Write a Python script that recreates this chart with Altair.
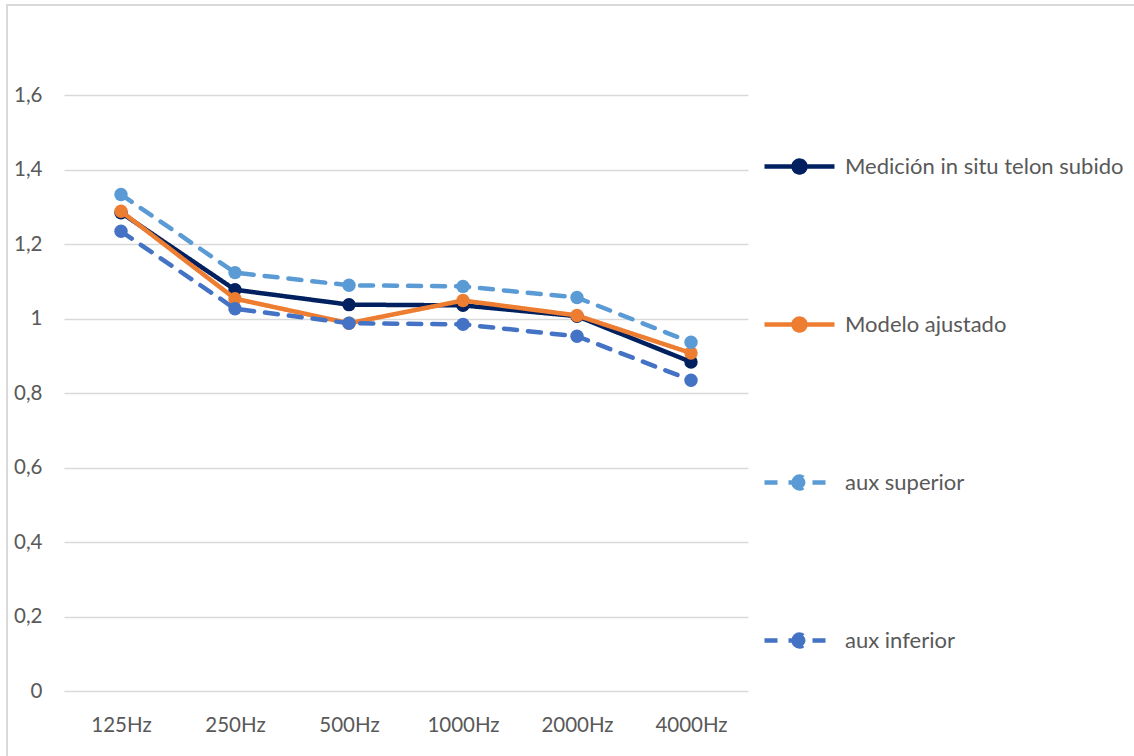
import altair as alt
import pandas as pd

# Frequency bands and the four measured / modelled curves
bands = ["125Hz", "250Hz", "500Hz", "1000Hz", "2000Hz", "4000Hz"]
series_names = ["Medición in situ telon subido", "Modelo ajustado", "aux superior", "aux inferior"]
medicion = [1.285, 1.078, 1.038, 1.036, 1.007, 0.884]
modelo = [1.289, 1.054, 0.988, 1.049, 1.009, 0.908]
aux_superior = [1.334, 1.124, 1.090, 1.087, 1.057, 0.937]
aux_inferior = [1.235, 1.027, 0.988, 0.985, 0.953, 0.835]

colors = ["#002060", "#ED7D31", "#5B9BD5", "#4472C4"]
dashes = [[1, 0], [1, 0], [13, 11], [13, 11]]
y_ticks = [0, 0.2, 0.4, 0.6, 0.8, 1, 1.2, 1.4, 1.6]

rows = []
for name, vals in zip(series_names, [medicion, modelo, aux_superior, aux_inferior]):
    for b, v in zip(bands, vals):
        rows.append({"banda": b, "valor": v, "serie": name})
df = pd.DataFrame(rows)

FONT = "Lato"
TEXT = "#595959"

x_enc = alt.X(
    "banda:N",
    sort=bands,
    title=None,
    scale=alt.Scale(type="point", padding=0.5),
    axis=alt.Axis(labelAngle=0, ticks=False, domain=False, labelPadding=24,
                  labelFontSize=20.5, labelColor=TEXT, labelFont=FONT),
)
y_enc = alt.Y(
    "valor:Q",
    title=None,
    scale=alt.Scale(domain=[0, 1.8], nice=False),
    axis=alt.Axis(values=y_ticks, ticks=False, domain=False, labelPadding=22,
                  labelExpr="replace(toString(datum.value), '.', ',')",
                  labelFontSize=20.5, labelColor=TEXT, labelFont=FONT,
                  gridColor="#d9d9d9", gridWidth=1.5),
)

# legend glyph: a line through a dot
LEGEND_PATH = ("M-1,0L1,0"
               "M-0.17,0A0.17,0.17 0 1,0 0.17,0A0.17,0.17 0 1,0 -0.17,0Z")

legend = alt.Legend(
    title=None, orient="none", legendX=698, legendY=108, padding=0,
    symbolType=LEGEND_PATH, symbolSize=4900, symbolStrokeWidth=4.5,
    rowPadding=105, labelOffset=8, labelFontSize=22,
    labelFont=FONT, labelColor=TEXT, labelLimit=400,
)

stroke_scale = alt.Scale(domain=series_names, range=colors)
fill_scale = alt.Scale(domain=series_names, range=colors)
dash_scale = alt.Scale(domain=series_names, range=dashes)

layers = []
for name in series_names:
    base = alt.Chart(df).transform_filter(alt.datum.serie == name)
    line = base.mark_line(strokeWidth=4.5, strokeCap="round", strokeJoin="round").encode(
        x=x_enc, y=y_enc,
        stroke=alt.Stroke("serie:N", scale=stroke_scale, legend=legend),
        strokeDash=alt.StrokeDash("serie:N", scale=dash_scale, legend=legend),
    )
    dots = base.mark_point(filled=True, size=180, opacity=1, shape="circle").encode(
        x=x_enc, y=y_enc,
        fill=alt.Fill("serie:N", scale=fill_scale, legend=legend),
    )
    layers += [line, dots]

# light frame of the chart area
frame = alt.Chart(df).mark_rect(fill=None, stroke="#d9d9d9", strokeWidth=2).encode(
    x=alt.value(-57), x2=alt.value(1200), y=alt.value(-16), y2=alt.value(900)
)

chart = alt.layer(frame, *layers).properties(
    width=684,
    height=670,
    padding={"left": 64, "top": 21, "right": 386, "bottom": 65},
    autosize=alt.AutoSizeParams(type="none"),
    background="white",
).configure_view(stroke=None)

chart.save("out.html", embed_options={"renderer": "svg", "actions": False})
